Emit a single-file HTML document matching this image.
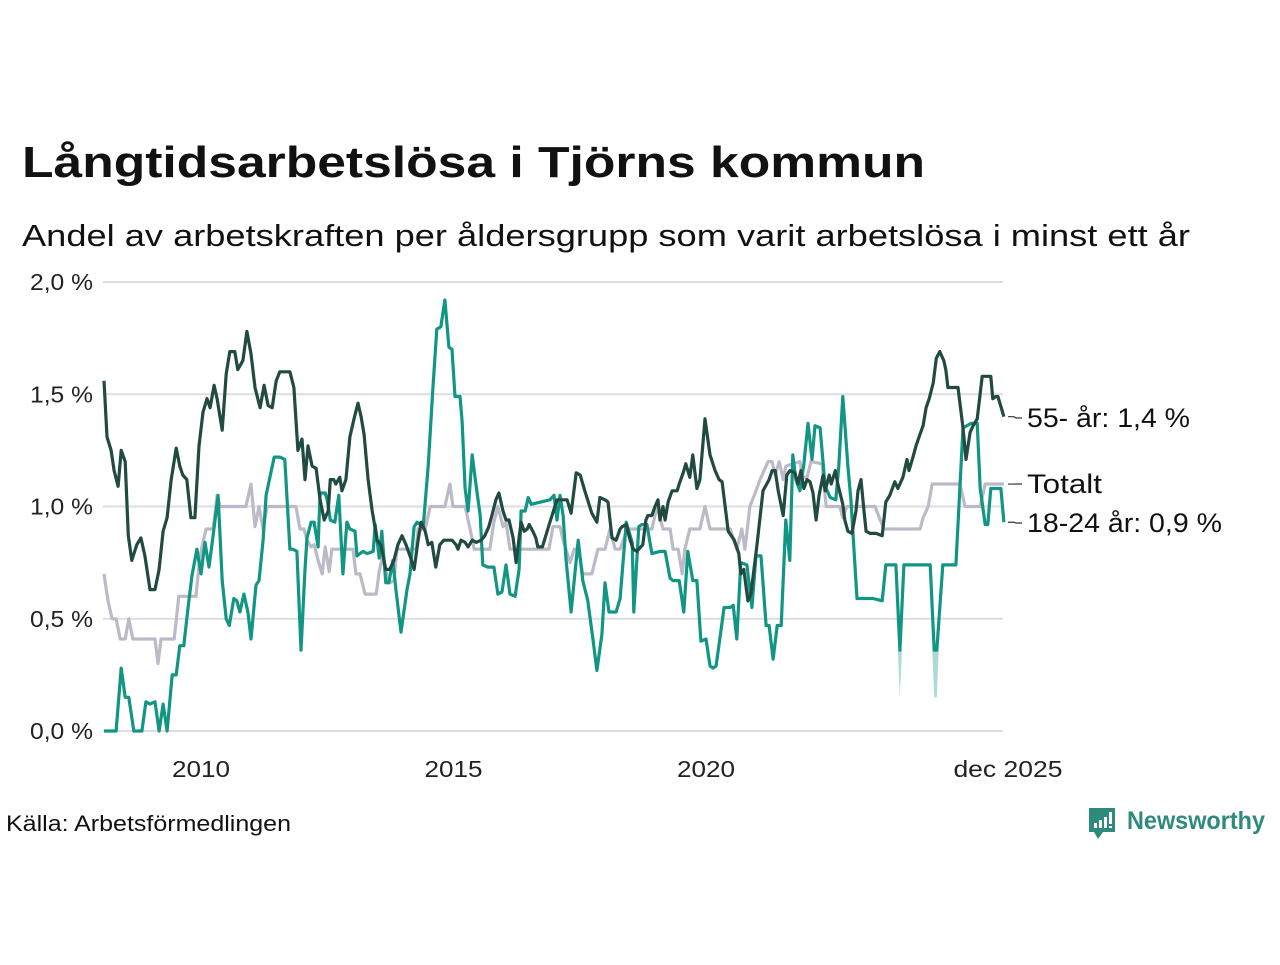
<!DOCTYPE html>
<html><head><meta charset="utf-8"><style>
body{margin:0;background:#fff;}
svg text{font-family:"Liberation Sans",sans-serif;}
</style></head><body>
<svg id="chart" width="1280" height="960" xmlns="http://www.w3.org/2000/svg">
<text x="22" y="177" font-size="44" font-weight="bold" fill="#111" textLength="903" lengthAdjust="spacingAndGlyphs">Långtidsarbetslösa i Tjörns kommun</text>
<text x="22" y="246" font-size="31" fill="#111" textLength="1168" lengthAdjust="spacingAndGlyphs">Andel av arbetskraften per åldersgrupp som varit arbetslösa i minst ett år</text>
<g id="grid"></g>
<g id="series"></g>
<g id="labels"></g>
<text x="6" y="831" font-size="22" fill="#111" textLength="285" lengthAdjust="spacingAndGlyphs">Källa: Arbetsförmedlingen</text>
<g>
<path d="M1089 808 h26 v24 h-12 l-5 7 l-4 -7 h-5 z" fill="#2e8b7b"/>
<rect x="1094" y="823" width="3" height="5" fill="#fff"/><rect x="1099" y="820" width="3" height="8" fill="#fff"/><rect x="1104" y="817" width="3" height="11" fill="#fff"/><rect x="1109" y="812" width="3" height="12" fill="#fff"/><rect x="1109" y="826" width="3" height="2" fill="#fff"/>
<text x="1127" y="829" font-size="25" font-weight="bold" fill="#2e8b7b" textLength="138" lengthAdjust="spacingAndGlyphs">Newsworthy</text>
</g>
</svg>
<script>
const yTicks=[0,0.5,1,1.5,2];
const yTickLabels=["0,0 %","0,5 %","1,0 %","1,5 %","2,0 %"];
const xTicks=[2009.94,2014.94,2019.94,2025.92];
const xTickLabels=["2010","2015","2020","dec 2025"];

const oldDates=[2008.02,2008.08,2008.16,2008.22,2008.30,2008.36,2008.44,2008.50,2008.57,2008.67,2008.75,2008.83,2008.93,2009.03,2009.11,2009.19,2009.27,2009.35,2009.45,2009.52,2009.58,2009.66,2009.74,2009.82,2009.90,2009.98,2010.06,2010.12,2010.20,2010.26,2010.36,2010.44,2010.51,2010.61,2010.67,2010.77,2010.85,2010.93,2011.01,2011.11,2011.19,2011.27,2011.35,2011.43,2011.50,2011.60,2011.70,2011.78,2011.86,2011.94,2012.00,2012.06,2012.14,2012.22,2012.30,2012.38,2012.46,2012.50,2012.57,2012.61,2012.69,2012.73,2012.81,2012.89,2012.97,2013.05,2013.11,2013.17,2013.25,2013.33,2013.43,2013.50,2013.60,2013.68,2013.76,2013.84,2013.92,2014.00,2014.08,2014.16,2014.24,2014.30,2014.38,2014.44,2014.51,2014.59,2014.67,2014.75,2014.83,2014.91,2014.99,2015.03,2015.09,2015.17,2015.23,2015.31,2015.39,2015.49,2015.56,2015.64,2015.70,2015.78,2015.84,2015.92,2015.98,2016.04,2016.12,2016.18,2016.24,2016.28,2016.34,2016.40,2016.44,2016.51,2016.57,2016.61,2016.70,2016.85,2016.99,2017.09,2017.19,2017.27,2017.37,2017.45,2017.54,2017.68,2017.78,2017.84,2017.94,2018.00,2018.08,2018.16,2018.24,2018.28,2018.36,2018.44,2018.50,2018.57,2018.69,2018.75,2018.79,2018.87,2018.93,2018.99,2019.03,2019.09,2019.13,2019.19,2019.27,2019.37,2019.41,2019.49,2019.54,2019.62,2019.68,2019.76,2019.82,2019.92,2020.02,2020.12,2020.20,2020.26,2020.38,2020.50,2020.59,2020.63,2020.69,2020.77,2020.83,2020.95,2021.07,2021.19,2021.25,2021.31,2021.37,2021.47,2021.54,2021.60,2021.70,2021.76,2021.82,2021.88,2021.94,2022.00,2022.06,2022.12,2022.18,2022.26,2022.30,2022.38,2022.42,2022.50,2022.55,2022.65,2022.69,2022.75,2022.83,2022.91,2022.95,2023.01,2023.07,2023.11,2023.19,2023.31,2023.43,2023.50,2023.58,2023.68,2023.74,2023.84,2023.92,2023.96,2024.04,2024.10,2024.16,2024.24,2024.30,2024.36,2024.44,2024.50,2024.57,2024.65,2024.69,2024.73,2024.83,2024.93,2025.03,2025.09,2025.17,2025.23,2025.31,2025.41,2025.50,2025.58,2025.62,2025.68,2025.72,2025.84];
const oldValues=[1.56,1.31,1.25,1.16,1.09,1.25,1.20,0.87,0.76,0.83,0.86,0.78,0.63,0.63,0.72,0.89,0.95,1.12,1.26,1.18,1.14,1.12,0.95,0.95,1.27,1.42,1.48,1.44,1.54,1.48,1.34,1.59,1.69,1.69,1.61,1.65,1.78,1.68,1.53,1.44,1.54,1.45,1.44,1.56,1.60,1.60,1.60,1.53,1.25,1.30,1.12,1.27,1.18,1.17,1.03,0.94,0.98,1.12,1.12,1.10,1.13,1.07,1.12,1.31,1.39,1.46,1.40,1.32,1.12,0.98,0.85,0.83,0.72,0.72,0.76,0.83,0.87,0.83,0.78,0.72,0.85,0.93,0.89,0.83,0.84,0.73,0.83,0.85,0.85,0.85,0.83,0.81,0.85,0.84,0.82,0.85,0.84,0.85,0.87,0.91,0.96,1.03,1.06,0.98,0.94,0.94,0.86,0.75,0.86,0.93,0.89,0.90,0.92,0.89,0.86,0.82,0.82,0.93,1.03,1.03,1.03,0.97,1.15,1.14,1.07,0.97,0.93,1.04,1.03,1.02,0.86,0.85,0.90,0.91,0.92,0.85,0.81,0.80,0.83,0.94,0.96,0.96,1.00,1.03,0.94,1.00,0.94,1.02,1.07,1.07,1.10,1.15,1.19,1.13,1.23,1.08,1.12,1.39,1.23,1.16,1.12,1.11,0.89,0.85,0.79,0.70,0.72,0.58,0.61,0.83,1.07,1.12,1.16,1.16,1.07,0.96,1.14,1.16,1.15,1.10,1.16,1.08,1.12,1.11,1.06,0.94,1.05,1.14,1.07,1.14,1.10,1.16,1.10,1.01,0.94,0.89,0.88,0.98,1.07,1.12,0.98,0.89,0.88,0.88,0.87,1.02,1.05,1.11,1.08,1.13,1.21,1.16,1.22,1.27,1.31,1.36,1.44,1.48,1.55,1.66,1.69,1.65,1.61,1.53,1.53,1.53,1.35,1.21,1.33,1.36,1.39,1.58,1.58,1.58,1.48,1.49,1.49,1.40];

const youngDates=[2008.02,2008.26,2008.36,2008.44,2008.51,2008.61,2008.77,2008.85,2008.93,2009.03,2009.11,2009.19,2009.27,2009.37,2009.45,2009.52,2009.60,2009.68,2009.76,2009.86,2009.94,2010.02,2010.10,2010.18,2010.28,2010.36,2010.44,2010.50,2010.59,2010.65,2010.71,2010.79,2010.87,2010.93,2011.03,2011.09,2011.17,2011.23,2011.39,2011.50,2011.60,2011.70,2011.76,2011.84,2011.92,2012.00,2012.04,2012.12,2012.18,2012.26,2012.30,2012.40,2012.44,2012.50,2012.59,2012.67,2012.75,2012.83,2012.89,2012.99,2013.03,2013.09,2013.15,2013.23,2013.35,2013.39,2013.47,2013.52,2013.60,2013.66,2013.74,2013.80,2013.90,2014.02,2014.08,2014.16,2014.22,2014.28,2014.34,2014.44,2014.53,2014.61,2014.69,2014.77,2014.85,2014.91,2014.97,2015.07,2015.11,2015.17,2015.23,2015.31,2015.39,2015.47,2015.52,2015.62,2015.74,2015.82,2015.90,2015.98,2016.06,2016.16,2016.24,2016.28,2016.36,2016.42,2016.48,2016.85,2016.93,2016.99,2017.05,2017.11,2017.17,2017.27,2017.41,2017.50,2017.60,2017.70,2017.78,2017.88,2017.94,2018.02,2018.16,2018.24,2018.34,2018.36,2018.48,2018.51,2018.61,2018.67,2018.77,2018.87,2019.03,2019.13,2019.23,2019.29,2019.41,2019.50,2019.58,2019.68,2019.76,2019.84,2019.94,2020.02,2020.08,2020.14,2020.30,2020.42,2020.48,2020.55,2020.63,2020.75,2020.85,2020.93,2021.03,2021.13,2021.19,2021.27,2021.35,2021.43,2021.52,2021.60,2021.66,2021.72,2021.80,2021.88,2021.96,2022.04,2022.10,2022.20,2022.30,2022.36,2022.40,2022.51,2022.57,2022.65,2022.75,2022.81,2022.93,2023.09,2023.25,2023.43,2023.50,2023.64,2023.70,2023.78,2023.86,2024.08,2024.38,2024.46,2024.51,2024.63,2024.77,2024.89,2025.03,2025.19,2025.31,2025.37,2025.47,2025.52,2025.58,2025.78,2025.84];
const youngValues=[0,0,0.28,0.15,0.15,0,0,0.13,0.12,0.13,0,0.12,0,0.25,0.25,0.38,0.38,0.54,0.69,0.81,0.70,0.84,0.73,0.87,1.05,0.67,0.50,0.47,0.59,0.58,0.53,0.61,0.53,0.41,0.65,0.67,0.85,1.05,1.22,1.22,1.21,0.81,0.81,0.80,0.36,0.72,0.86,0.93,0.93,0.82,1.06,1.06,1.03,0.94,0.93,1.05,0.70,0.93,0.90,0.89,0.78,0.79,0.80,0.79,0.80,0.92,0.77,0.89,0.66,0.66,0.76,0.63,0.44,0.63,0.70,0.91,0.93,0.92,0.91,1.18,1.52,1.79,1.80,1.92,1.71,1.70,1.49,1.49,1.38,1.08,0.98,1.23,1.09,0.96,0.74,0.73,0.73,0.61,0.62,0.74,0.61,0.60,0.72,0.98,0.98,1.04,1.01,1.03,1.05,0.94,1.05,0.96,0.76,0.53,0.85,0.67,0.58,0.41,0.27,0.43,0.66,0.53,0.53,0.59,0.87,0.93,0.84,0.53,0.91,0.92,0.92,0.79,0.80,0.80,0.68,0.67,0.67,0.53,0.80,0.67,0.67,0.40,0.41,0.29,0.28,0.29,0.55,0.55,0.56,0.41,0.75,0.74,0.55,0.78,0.78,0.47,0.47,0.32,0.47,0.47,0.94,0.76,1.23,1.12,1.07,1.19,1.37,1.21,1.36,1.35,1.09,1.06,1.04,1.03,1.18,1.49,1.18,1.03,0.59,0.59,0.59,0.58,0.74,0.74,0.74,0.36,0.74,0.74,0.74,0.36,0.36,0.74,0.74,0.74,1.35,1.37,1.37,1.08,0.92,0.92,1.08,1.08,0.93];

const totalDates=[2008.02,2008.10,2008.18,2008.26,2008.34,2008.44,2008.51,2008.59,2009.03,2009.09,2009.15,2009.41,2009.50,2009.84,2009.92,2010.04,2010.18,2010.26,2010.32,2010.83,2010.93,2011.01,2011.09,2011.17,2011.25,2011.82,2011.90,2011.98,2012.04,2012.12,2012.18,2012.26,2012.34,2012.40,2012.48,2012.53,2012.95,2013.01,2013.09,2013.19,2013.41,2013.47,2013.54,2013.60,2013.68,2013.76,2013.82,2014.20,2014.24,2014.38,2014.48,2014.77,2014.87,2014.93,2015.17,2015.27,2015.35,2015.66,2015.74,2015.82,2015.92,2015.98,2016.06,2016.83,2016.91,2017.05,2017.11,2017.25,2017.33,2017.41,2017.50,2017.68,2017.80,2017.94,2018.04,2018.14,2018.24,2018.38,2018.87,2018.97,2019.09,2019.23,2019.29,2019.39,2019.47,2019.52,2019.62,2019.82,2019.92,2020.02,2020.42,2020.55,2020.65,2020.71,2020.81,2020.93,2021.01,2021.17,2021.25,2021.31,2021.39,2021.47,2021.52,2021.80,2021.86,2021.94,2022.02,2022.24,2022.32,2022.59,2022.65,2022.73,2023.29,2023.39,2023.47,2024.18,2024.24,2024.34,2024.42,2024.97,2025.07,2025.37,2025.47,2025.84];
const totalValues=[0.70,0.58,0.50,0.50,0.41,0.41,0.50,0.41,0.41,0.30,0.41,0.41,0.60,0.60,0.78,0.90,0.90,1.05,1.00,1.00,1.10,0.91,1.00,0.90,1.00,1.00,0.90,0.90,0.85,0.82,0.83,0.76,0.70,0.82,0.71,0.81,0.81,0.70,0.70,0.61,0.61,0.71,0.78,0.71,0.66,0.67,0.81,0.81,0.90,0.90,1.00,1.00,1.10,1.00,1.00,0.90,0.81,0.81,0.93,1.00,0.91,0.93,0.81,0.81,0.91,0.91,0.85,0.75,0.81,0.81,0.70,0.70,0.81,0.81,0.90,0.81,0.81,0.90,0.90,1.00,0.90,0.90,0.81,0.81,0.70,0.81,0.90,0.90,1.00,0.90,0.90,0.81,0.90,0.81,1.00,1.07,1.12,1.20,1.20,1.14,1.20,1.12,1.18,1.20,1.13,1.13,1.20,1.19,1.00,1.00,0.95,1.00,1.00,0.94,0.90,0.90,0.95,1.00,1.10,1.10,1.00,1.00,1.10,1.10];

const bandDates=[2023.74,2023.78,2023.82,2024.42,2024.46,2024.51,2024.55];
const bandLow=[0.36,0.15,0.36,0.36,0.15,0.15,0.36];

const NS="http://www.w3.org/2000/svg";
const X0=103,X1=1003,Y0=731,Y1=282;
function xs(t){return X0+(t-2008)*50.5;}
function ys(v){return Y0-(v/2)*(Y0-Y1);}
function mk(tag,attrs,parent){const e=document.createElementNS(NS,tag);for(const k in attrs)e.setAttribute(k,attrs[k]);parent.appendChild(e);return e;}
const grid=document.getElementById('grid');
yTicks.forEach((v,i)=>{
  const l=mk('line',{x1:X0,x2:X1,y1:ys(v),y2:ys(v),stroke:'#dedde3','stroke-width':2},grid);
  
  
  const t=mk('text',{x:30,y:ys(v)+8,'font-size':23,fill:'#222',textLength:63,lengthAdjust:'spacingAndGlyphs'},grid);
  t.textContent=yTickLabels[i];
  
  
});
xTicks.forEach((v,i)=>{
  const w=xTickLabels[i].length>4?109:58;
  const t=mk('text',{x:xs(v)-w/2,y:777,'font-size':23,fill:'#222',textLength:w,lengthAdjust:'spacingAndGlyphs'},grid);
  t.textContent=xTickLabels[i];
  
  
});
const ser=document.getElementById('series');
let bp=bandDates.map((d,i)=>xs(d)+','+ys(bandLow[i])).join(' ');
const band=mk('polygon',{points:bp,fill:'#119683','fill-opacity':0.35},ser);


function line(d,v,col,name){
  const p=mk('polyline',{points:d.map((t,i)=>xs(t).toFixed(1)+','+ys(v[i]).toFixed(1)).join(' '),fill:'none',stroke:col,'stroke-width':3.2,'stroke-linejoin':'round'},ser);
  
  
}
line(totalDates,totalValues,'#bdbac8','line-totalt');
line(youngDates,youngValues,'#119683','line-18-24');
line(oldDates,oldValues,'#214a41','line-55');
const lab=document.getElementById('labels');
[["55- år: 1,4 %",oldValues[oldValues.length-1],418,163],["Totalt",totalValues[totalValues.length-1],484,75],["18-24 år: 0,9 %",youngValues[youngValues.length-1],523,195]].forEach(a=>{
  const yEnd=ys(a[1]);
  const c=mk('polyline',{points:`1008,${yEnd} 1014,${yEnd} 1016,${a[2]} 1022,${a[2]}`,fill:'none',stroke:'#333','stroke-width':1.2},lab);
  
  
  const t=mk('text',{x:1027,y:a[2]+9,'font-size':27,fill:'#111',textLength:a[3],lengthAdjust:'spacingAndGlyphs'},lab);
  t.textContent=a[0];
  
  
});
</script>
</body></html>
